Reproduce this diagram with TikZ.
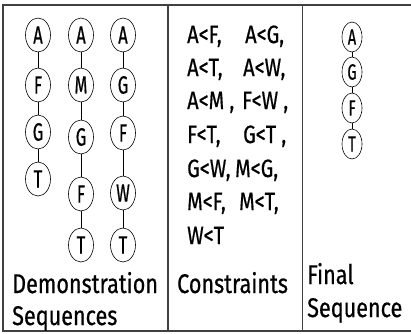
\documentclass[tikz,border=0pt]{standalone}
\usepackage{fontspec}
\newfontfamily\agency{Fira Sans}[FakeStretch=0.8, FakeBold=0.6]
\newfontfamily\agencyn{Fira Sans}[FakeStretch=0.66, FakeBold=0.6]
\usetikzlibrary{shapes.geometric}
\begin{document}
\begin{tikzpicture}[x=1pt,y=-1pt,
  seqnode/.style={draw, ellipse, inner sep=0pt, minimum width=25pt, minimum height=34pt, line width=0.6pt, font=\agencyn\fontsize{25}{25}\selectfont},
  finnode/.style={seqnode, minimum width=20pt, minimum height=30pt, font=\agencyn\fontsize{22}{22}\selectfont},
  link/.style={line width=0.9pt},
  frameline/.style={line width=1.4pt, draw=black!75},
  lbl/.style={anchor=base west, inner sep=0pt, font=\agency\fontsize{27}{27}\selectfont},
  cons/.style={anchor=base west, inner sep=0pt, font=\agency\fontsize{25}{25}\selectfont}]
\useasboundingbox (0,0) rectangle (411,333);
% frame
\draw[frameline] (411,5) -- (3,5) -- (3,331) -- (411,331);
\draw[frameline] (168,5) -- (168,331);
\draw[frameline] (302.5,5) -- (302.5,331);
% column 1
\node[seqnode] (a1) at (38,35) {A};
\node[seqnode] (f1) at (38,85) {F};
\node[seqnode] (g1) at (38,132) {G};
\node[seqnode] (t1) at (38,179) {T};
\draw[link] (a1) -- (f1); \draw[link] (f1) -- (g1); \draw[link] (g1) -- (t1);
% column 2
\node[seqnode] (a2) at (81,35) {A};
\node[seqnode] (m2) at (81,85) {M};
\node[seqnode] (g2) at (81,137) {G};
\node[seqnode] (f2) at (81,194) {F};
\node[seqnode] (t2) at (81,245) {T};
\draw[link] (a2) -- (m2); \draw[link] (m2) -- (g2); \draw[link] (g2) -- (f2); \draw[link] (f2) -- (t2);
% column 3
\node[seqnode] (a3) at (123,35) {A};
\node[seqnode] (g3) at (123,85) {G};
\node[seqnode] (f3) at (123,133) {F};
\node[seqnode] (w3) at (123,193) {W};
\node[seqnode] (t3) at (123,245) {T};
\draw[link] (a3) -- (g3); \draw[link] (g3) -- (f3); \draw[link] (f3) -- (w3); \draw[link] (w3) -- (t3);
% labels
\node[lbl] (demo) at (12,293) {Demonstration};
\node[lbl] (seqs) at (12,325) {Sequences};
\node[lbl] (constr) at (177,293) {Constraints};
\node[lbl] (final) at (307,284) {Final};
\node[lbl] (fseq) at (307,317) {Sequence};
% constraints
\node[cons] (c1) at (187,43) {\makebox[58pt][l]{A<F,}A<G,};
\node[cons] (c2) at (187,76) {\makebox[56pt][l]{A<T,}A<W,};
\node[cons] (c3) at (187,109) {\makebox[55pt][l]{A<M ,}F<W ,};
\node[cons] (c4) at (187,143) {\makebox[56pt][l]{F<T,}G<T ,};
\node[cons] (c5) at (187,177) {\makebox[48pt][l]{G<W,}M<G,};
\node[cons] (c6) at (187,210) {\makebox[52pt][l]{M<F,}M<T,};
\node[cons] (c7) at (187,244) {W<T};
% final sequence
\node[finnode] (fa) at (352,37) {A};
\node[finnode] (fg) at (352,72) {G};
\node[finnode] (ff) at (352,108) {F};
\node[finnode] (ft) at (352,144) {T};
\draw[link] (fa) -- (fg); \draw[link] (fg) -- (ff); \draw[link] (ff) -- (ft);
\end{tikzpicture}
\end{document}
